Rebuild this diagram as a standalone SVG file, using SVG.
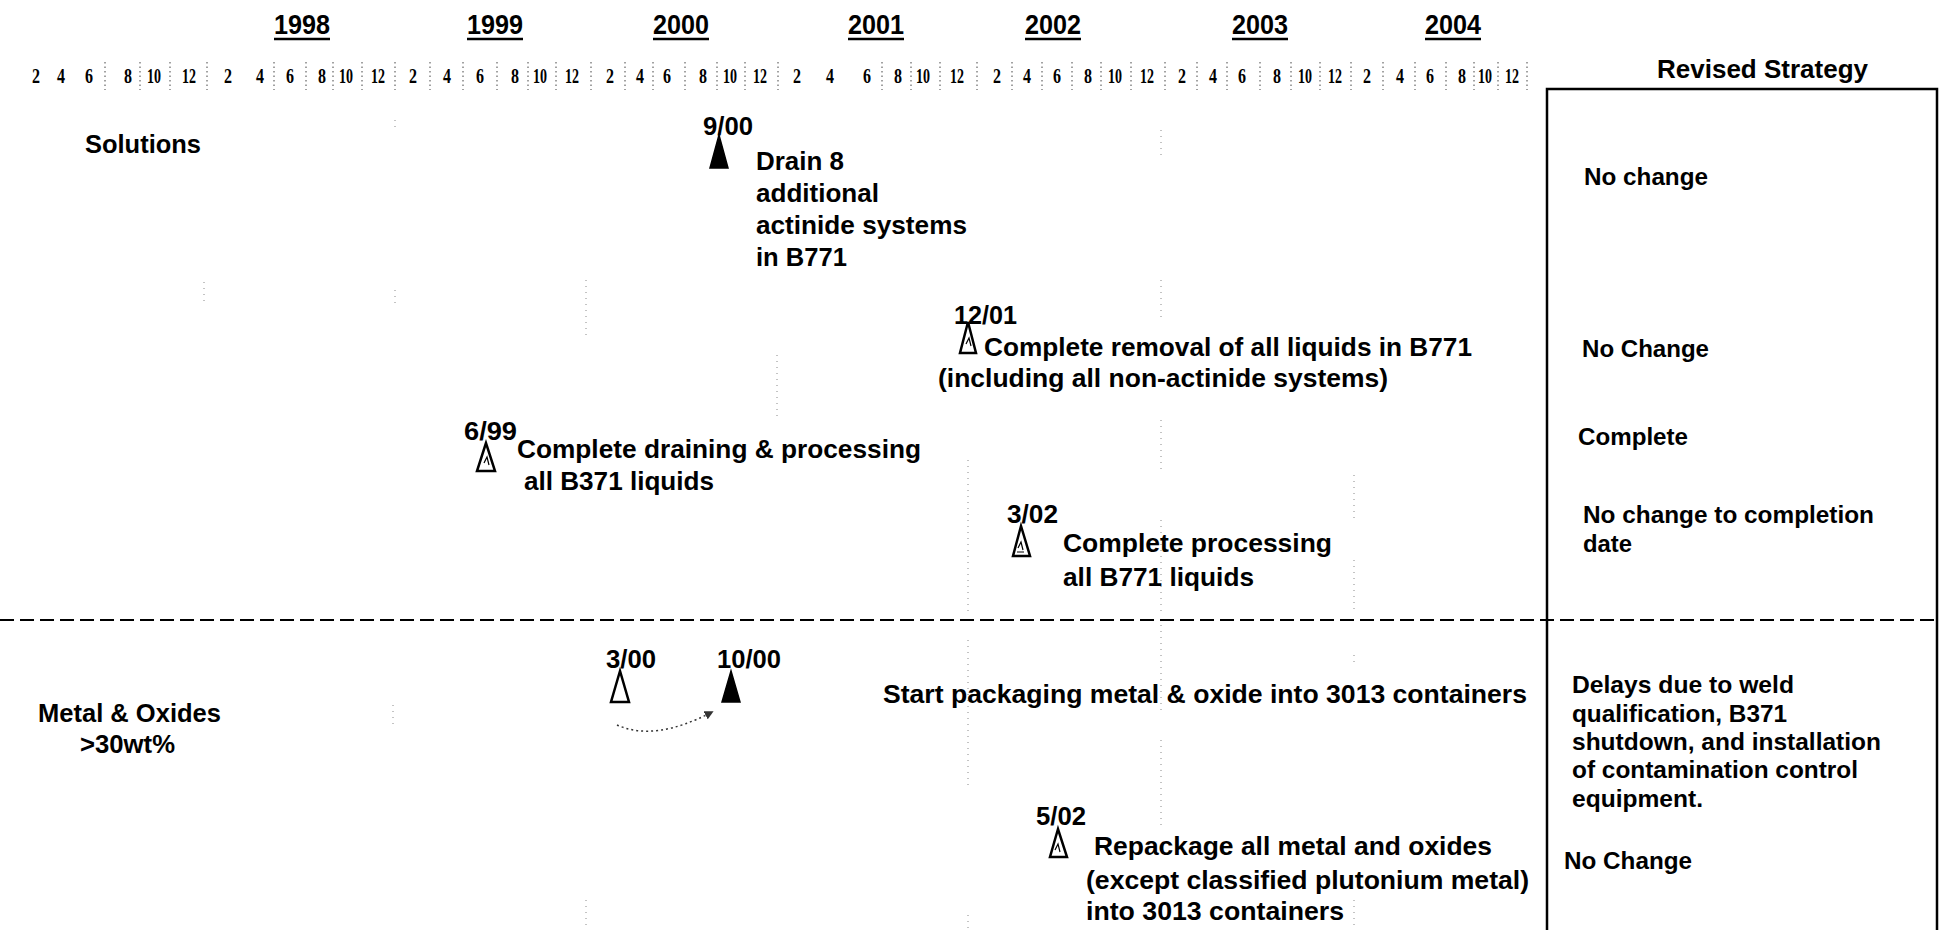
<svg xmlns="http://www.w3.org/2000/svg" width="1939" height="930" viewBox="0 0 1939 930">
<defs>
<style>
text{font-family:"Liberation Sans",Arial,sans-serif;font-weight:bold;fill:#000}
.yr{font-size:28px}
.m{font-family:"Liberation Serif","Times New Roman",serif;font-size:22px;text-anchor:middle}
.t{font-size:26px}
.r{font-size:24px}
.ul{stroke:#000;stroke-width:2.5}
.tick{stroke:#444;stroke-width:1;stroke-dasharray:1.5,3}
.grid{stroke:#888;stroke-width:1;stroke-dasharray:1,5}
.tri-f{fill:#000;stroke:#000;stroke-width:1.5;stroke-linejoin:miter}
.tri-o{fill:#fff;stroke:#000;stroke-width:2.5;stroke-linejoin:miter}
.hatch{stroke:#000;stroke-width:1.2;fill:none}
</style>
<marker id="ah" viewBox="0 0 10 10" refX="8" refY="5" markerWidth="9" markerHeight="9" orient="auto" markerUnits="userSpaceOnUse">
<path d="M0,0 L10,5 L0,10 z" fill="#333"/>
</marker>
</defs>
<rect width="1939" height="930" fill="#fff"/>

<g id="year-header">
<text class="yr" x="302" y="34" text-anchor="middle" textLength="56" lengthAdjust="spacingAndGlyphs">1998</text>
<line class="ul" x1="274" y1="39" x2="330" y2="39"/>
<text class="yr" x="495" y="34" text-anchor="middle" textLength="56" lengthAdjust="spacingAndGlyphs">1999</text>
<line class="ul" x1="467" y1="39" x2="523" y2="39"/>
<text class="yr" x="681" y="34" text-anchor="middle" textLength="56" lengthAdjust="spacingAndGlyphs">2000</text>
<line class="ul" x1="653" y1="39" x2="709" y2="39"/>
<text class="yr" x="876" y="34" text-anchor="middle" textLength="56" lengthAdjust="spacingAndGlyphs">2001</text>
<line class="ul" x1="848" y1="39" x2="904" y2="39"/>
<text class="yr" x="1053" y="34" text-anchor="middle" textLength="56" lengthAdjust="spacingAndGlyphs">2002</text>
<line class="ul" x1="1025" y1="39" x2="1081" y2="39"/>
<text class="yr" x="1260" y="34" text-anchor="middle" textLength="56" lengthAdjust="spacingAndGlyphs">2003</text>
<line class="ul" x1="1232" y1="39" x2="1288" y2="39"/>
<text class="yr" x="1453" y="34" text-anchor="middle" textLength="56" lengthAdjust="spacingAndGlyphs">2004</text>
<line class="ul" x1="1425" y1="39" x2="1481" y2="39"/>
</g>

<g id="month-scale">
<g>
<text class="m" x="36" y="83" textLength="8" lengthAdjust="spacingAndGlyphs">2</text>
<text class="m" x="61" y="83" textLength="8" lengthAdjust="spacingAndGlyphs">4</text>
<text class="m" x="89" y="83" textLength="8" lengthAdjust="spacingAndGlyphs">6</text>
<text class="m" x="128" y="83" textLength="8" lengthAdjust="spacingAndGlyphs">8</text>
<text class="m" x="154" y="83" textLength="14" lengthAdjust="spacingAndGlyphs">10</text>
<text class="m" x="189" y="83" textLength="14" lengthAdjust="spacingAndGlyphs">12</text>
<text class="m" x="228" y="83" textLength="8" lengthAdjust="spacingAndGlyphs">2</text>
<text class="m" x="260" y="83" textLength="8" lengthAdjust="spacingAndGlyphs">4</text>
<text class="m" x="290" y="83" textLength="8" lengthAdjust="spacingAndGlyphs">6</text>
<text class="m" x="322" y="83" textLength="8" lengthAdjust="spacingAndGlyphs">8</text>
<text class="m" x="346" y="83" textLength="14" lengthAdjust="spacingAndGlyphs">10</text>
<text class="m" x="378" y="83" textLength="14" lengthAdjust="spacingAndGlyphs">12</text>
<text class="m" x="413" y="83" textLength="8" lengthAdjust="spacingAndGlyphs">2</text>
<text class="m" x="447" y="83" textLength="8" lengthAdjust="spacingAndGlyphs">4</text>
<text class="m" x="480" y="83" textLength="8" lengthAdjust="spacingAndGlyphs">6</text>
<text class="m" x="515" y="83" textLength="8" lengthAdjust="spacingAndGlyphs">8</text>
<text class="m" x="540" y="83" textLength="14" lengthAdjust="spacingAndGlyphs">10</text>
<text class="m" x="572" y="83" textLength="14" lengthAdjust="spacingAndGlyphs">12</text>
<text class="m" x="610" y="83" textLength="8" lengthAdjust="spacingAndGlyphs">2</text>
<text class="m" x="640" y="83" textLength="8" lengthAdjust="spacingAndGlyphs">4</text>
<text class="m" x="667" y="83" textLength="8" lengthAdjust="spacingAndGlyphs">6</text>
<text class="m" x="703" y="83" textLength="8" lengthAdjust="spacingAndGlyphs">8</text>
<text class="m" x="730" y="83" textLength="14" lengthAdjust="spacingAndGlyphs">10</text>
<text class="m" x="760" y="83" textLength="14" lengthAdjust="spacingAndGlyphs">12</text>
<text class="m" x="797" y="83" textLength="8" lengthAdjust="spacingAndGlyphs">2</text>
<text class="m" x="830" y="83" textLength="8" lengthAdjust="spacingAndGlyphs">4</text>
<text class="m" x="867" y="83" textLength="8" lengthAdjust="spacingAndGlyphs">6</text>
<text class="m" x="898" y="83" textLength="8" lengthAdjust="spacingAndGlyphs">8</text>
<text class="m" x="923" y="83" textLength="14" lengthAdjust="spacingAndGlyphs">10</text>
<text class="m" x="957" y="83" textLength="14" lengthAdjust="spacingAndGlyphs">12</text>
<text class="m" x="997" y="83" textLength="8" lengthAdjust="spacingAndGlyphs">2</text>
<text class="m" x="1027" y="83" textLength="8" lengthAdjust="spacingAndGlyphs">4</text>
<text class="m" x="1057" y="83" textLength="8" lengthAdjust="spacingAndGlyphs">6</text>
<text class="m" x="1088" y="83" textLength="8" lengthAdjust="spacingAndGlyphs">8</text>
<text class="m" x="1115" y="83" textLength="14" lengthAdjust="spacingAndGlyphs">10</text>
<text class="m" x="1147" y="83" textLength="14" lengthAdjust="spacingAndGlyphs">12</text>
<text class="m" x="1182" y="83" textLength="8" lengthAdjust="spacingAndGlyphs">2</text>
<text class="m" x="1213" y="83" textLength="8" lengthAdjust="spacingAndGlyphs">4</text>
<text class="m" x="1242" y="83" textLength="8" lengthAdjust="spacingAndGlyphs">6</text>
<text class="m" x="1277" y="83" textLength="8" lengthAdjust="spacingAndGlyphs">8</text>
<text class="m" x="1305" y="83" textLength="14" lengthAdjust="spacingAndGlyphs">10</text>
<text class="m" x="1335" y="83" textLength="14" lengthAdjust="spacingAndGlyphs">12</text>
<text class="m" x="1367" y="83" textLength="8" lengthAdjust="spacingAndGlyphs">2</text>
<text class="m" x="1400" y="83" textLength="8" lengthAdjust="spacingAndGlyphs">4</text>
<text class="m" x="1430" y="83" textLength="8" lengthAdjust="spacingAndGlyphs">6</text>
<text class="m" x="1462" y="83" textLength="8" lengthAdjust="spacingAndGlyphs">8</text>
<text class="m" x="1485" y="83" textLength="14" lengthAdjust="spacingAndGlyphs">10</text>
<text class="m" x="1512" y="83" textLength="14" lengthAdjust="spacingAndGlyphs">12</text>
</g>
<path class="tick" d="M105,62V90 M140,62V90 M170,62V90 M207,62V90 M274,62V90 M306,62V90 M333,62V90 M362,62V90 M395,62V90 M430,62V90 M463,62V90 M497,62V90 M528,62V90 M556,62V90 M591,62V90 M625,62V90 M653,62V90 M685,62V90 M717,62V90 M745,62V90 M778,62V90 M882,62V90 M911,62V90 M940,62V90 M977,62V90 M1012,62V90 M1042,62V90 M1072,62V90 M1101,62V90 M1131,62V90 M1165,62V90 M1197,62V90 M1227,62V90 M1260,62V90 M1291,62V90 M1320,62V90 M1351,62V90 M1383,62V90 M1415,62V90 M1446,62V90 M1474,62V90 M1498,62V90 M1527,62V90"/>
</g>

<g id="grid-remnants">
<path class="grid" d="M204,282V306 M395,120V130 M395,290V306 M393,705V728 M586,280V335 M586,900V925 M777,355V420 M968,460V615 M968,640V790 M968,915V930 M1161,130V160 M1161,280V320 M1161,420V470 M1161,520V615 M1161,625V715 M1161,740V830 M1354,475V520 M1354,560V610 M1354,655V665 M1354,900V927"/>
</g>

<g id="strategy-box">
<path d="M1547,930 V89 H1937 V930" fill="none" stroke="#000" stroke-width="2.5"/>
<text x="1657" y="78" style="font-size:26px" textLength="211" lengthAdjust="spacingAndGlyphs">Revised Strategy</text>
</g>

<g id="divider">
<line x1="0" y1="620" x2="1939" y2="620" stroke="#000" stroke-width="2" stroke-dasharray="14,6"/>
</g>

<g id="row-solutions">
<text class="t" x="85" y="153" textLength="116" lengthAdjust="spacingAndGlyphs">Solutions</text>
</g>

<g id="m-9-00">
<text class="t" x="703" y="135" textLength="50" lengthAdjust="spacingAndGlyphs">9/00</text>
<polygon class="tri-f" points="719,135 710,168 728,168"/>
<text class="t" x="756" y="170" textLength="88" lengthAdjust="spacingAndGlyphs">Drain 8</text>
<text class="t" x="756" y="202" textLength="123" lengthAdjust="spacingAndGlyphs">additional</text>
<text class="t" x="756" y="234" textLength="211" lengthAdjust="spacingAndGlyphs">actinide systems</text>
<text class="t" x="756" y="266" textLength="91" lengthAdjust="spacingAndGlyphs">in B771</text>
</g>

<g id="m-12-01">
<text class="t" x="954" y="324" textLength="63" lengthAdjust="spacingAndGlyphs">12/01</text>
<polygon class="tri-o" points="968,322 960,353 976,353"/>
<path class="hatch" d="M966,344 l3,-6 l2,8"/>
<text class="t" x="984" y="356" textLength="488" lengthAdjust="spacingAndGlyphs">Complete removal of all liquids in B771</text>
<text class="t" x="938" y="387" textLength="450" lengthAdjust="spacingAndGlyphs">(including all non-actinide systems)</text>
</g>

<g id="m-6-99">
<text class="t" x="464" y="440" textLength="53" lengthAdjust="spacingAndGlyphs">6/99</text>
<polygon class="tri-o" points="486,443 477,471 495,471"/>
<path class="hatch" d="M484,463 l3,-6 l2,8"/>
<text class="t" x="517" y="458" textLength="404" lengthAdjust="spacingAndGlyphs">Complete draining &amp; processing</text>
<text class="t" x="524" y="490" textLength="190" lengthAdjust="spacingAndGlyphs">all B371 liquids</text>
</g>

<g id="m-3-02">
<text class="t" x="1007" y="523" textLength="51" lengthAdjust="spacingAndGlyphs">3/02</text>
<polygon class="tri-o" points="1021,526 1013,556 1030,556"/>
<path class="hatch" d="M1018,548 l3,-6 l2,8 M1017,552 h7"/>
<text class="t" x="1063" y="552" textLength="269" lengthAdjust="spacingAndGlyphs">Complete processing</text>
<text class="t" x="1063" y="586" textLength="191" lengthAdjust="spacingAndGlyphs">all B771 liquids</text>
</g>

<g id="row-metal">
<text class="t" x="38" y="722" textLength="183" lengthAdjust="spacingAndGlyphs">Metal &amp; Oxides</text>
<text class="t" x="80" y="753" textLength="95" lengthAdjust="spacingAndGlyphs">&gt;30wt%</text>
</g>

<g id="m-3-00">
<text class="t" x="606" y="668" textLength="50" lengthAdjust="spacingAndGlyphs">3/00</text>
<polygon class="tri-o" points="620,671 611,702 629,702"/>
</g>

<g id="m-10-00">
<text class="t" x="717" y="668" textLength="64" lengthAdjust="spacingAndGlyphs">10/00</text>
<polygon class="tri-f" points="731,671 722,702 740,702"/>
<text class="t" x="883" y="703" textLength="644" lengthAdjust="spacingAndGlyphs">Start packaging metal &amp; oxide into 3013 containers</text>
</g>

<g id="m-5-02">
<text class="t" x="1036" y="825" textLength="50" lengthAdjust="spacingAndGlyphs">5/02</text>
<polygon class="tri-o" points="1058,829 1050,857 1067,857"/>
<path class="hatch" d="M1055,850 l3,-6 l2,8"/>
<text class="t" x="1094" y="855" textLength="398" lengthAdjust="spacingAndGlyphs">Repackage all metal and oxides</text>
<text class="t" x="1086" y="889" textLength="443" lengthAdjust="spacingAndGlyphs">(except classified plutonium metal)</text>
<text class="t" x="1086" y="920" textLength="258" lengthAdjust="spacingAndGlyphs">into 3013 containers</text>
</g>

<g id="connectors">
<path d="M617,725 Q655,742 712,712" fill="none" stroke="#333" stroke-width="1.5" stroke-dasharray="2,3" marker-end="url(#ah)"/>
</g>

<g id="strategy-notes">
<text class="r" x="1584" y="185" textLength="124" lengthAdjust="spacingAndGlyphs">No change</text>
<text class="r" x="1582" y="357" textLength="127" lengthAdjust="spacingAndGlyphs">No Change</text>
<text class="r" x="1578" y="445" textLength="110" lengthAdjust="spacingAndGlyphs">Complete</text>
<text class="r" x="1583" y="523" textLength="291" lengthAdjust="spacingAndGlyphs">No change to completion</text>
<text class="r" x="1583" y="552" textLength="49" lengthAdjust="spacingAndGlyphs">date</text>
<text class="r" x="1572" y="693" textLength="222" lengthAdjust="spacingAndGlyphs">Delays due to weld</text>
<text class="r" x="1572" y="722" textLength="215" lengthAdjust="spacingAndGlyphs">qualification, B371</text>
<text class="r" x="1572" y="750" textLength="309" lengthAdjust="spacingAndGlyphs">shutdown, and installation</text>
<text class="r" x="1572" y="778" textLength="286" lengthAdjust="spacingAndGlyphs">of contamination control</text>
<text class="r" x="1572" y="807" textLength="131" lengthAdjust="spacingAndGlyphs">equipment.</text>
<text class="r" x="1564" y="869" textLength="128" lengthAdjust="spacingAndGlyphs">No Change</text>
</g>
</svg>
